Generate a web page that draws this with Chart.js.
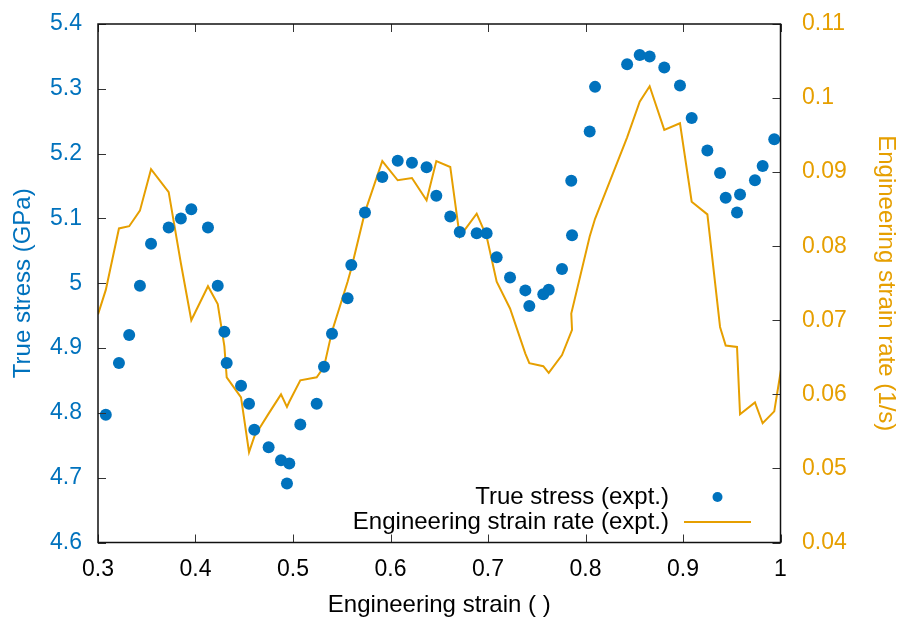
<!DOCTYPE html>
<html>
<head>
<meta charset="utf-8">
<script src="https://cdn.jsdelivr.net/npm/chart.js@4.4.1/dist/chart.umd.min.js"></script>
<style>
  html, body { margin: 0; padding: 0; background: #fff; }
  #wrap { width: 898px; height: 619px; }
</style>
</head>
<body>
<div id="wrap"><canvas id="chart" width="898" height="619"></canvas></div>
<script>
// engineering strain shared by both series (first/last only carry the rate line past the frame)
var strain = [
  0.300, 0.308, 0.3215, 0.332, 0.343, 0.3544, 0.3725, 0.385, 0.3957, 0.4128,
  0.4228, 0.4296, 0.432, 0.4467, 0.4549, 0.4603, 0.475, 0.4877, 0.4938, 0.4962,
  0.5075, 0.5243, 0.5318, 0.540, 0.556, 0.5598, 0.5738, 0.5916, 0.6074, 0.622,
  0.637, 0.647, 0.6613, 0.671, 0.6884, 0.6986, 0.7089, 0.7226, 0.7383, 0.7424,
  0.7567, 0.7623, 0.7759, 0.7862, 0.7854, 0.8043, 0.8098, 0.8427, 0.8556, 0.8658,
  0.8808, 0.8969, 0.9089, 0.925, 0.938, 0.9438, 0.9554, 0.9585, 0.9738, 0.9817,
  0.9936, 1.005
];
// true stress, GPa
var stress = [
  null, 4.797, 4.877, 4.920, 4.996, 5.061, 5.086, 5.100, 5.114, 5.086,
  4.996, 4.925, 4.877, 4.842, 4.814, 4.774, 4.747, 4.727, 4.691, 4.722,
  4.782, 4.814, 4.871, 4.922, 4.977, 5.028, 5.109, 5.164, 5.189, 5.186,
  5.179, 5.135, 5.103, 5.079, 5.077, 5.077, 5.040, 5.009, 4.989, 4.965,
  4.983, 4.990, 5.022, 5.074, 5.158, 5.234, 5.303, 5.338, 5.352, 5.350,
  5.333, 5.305, 5.255, 5.205, 5.170, 5.132, 5.109, 5.137, 5.159, 5.181,
  5.222, null
];
// engineering strain rate, 1/s
var rate = [
  0.0708, 0.0741, 0.0824, 0.0827, 0.0848, 0.0904, 0.0873, 0.0777, 0.0700, 0.0746,
  0.0722, 0.0665, 0.0623, 0.0596, 0.0522, 0.0543, 0.0574, 0.0600, 0.0583, 0.0590,
  0.0619, 0.0623, 0.0637, 0.0685, 0.0752, 0.0770, 0.0846, 0.0915, 0.0889, 0.0892,
  0.0862, 0.0915, 0.0907, 0.0813, 0.0844, 0.0813, 0.0752, 0.0716, 0.0655, 0.0642,
  0.0638, 0.0629, 0.0653, 0.0687, 0.0709, 0.0813, 0.0837, 0.0947, 0.0995, 0.1016,
  0.0957, 0.0966, 0.0860, 0.0843, 0.0691, 0.0666, 0.0664, 0.0573, 0.0589, 0.0561,
  0.0577, 0.0670
];
var legendLabels = ['True stress (expt.)', 'Engineering strain rate (expt.)'];

var BLUE = '#0072bd';
var ORANGE = '#e69f00';
var FONT = "'Liberation Sans', Arial, sans-serif";

function fmt(v) { return String(Number(v.toFixed(3))); }

var stressPts = [], ratePts = [];
for (var i = 0; i < strain.length; i++) {
  if (stress[i] != null) stressPts.push({x: strain[i], y: stress[i]});
  ratePts.push({x: strain[i], y: rate[i]});
}

// frame, inward ticks and the key, gnuplot style
var framePlugin = {
  id: 'frame',
  afterDraw: function(chart) {
    var ctx = chart.ctx, a = chart.chartArea, s = chart.scales;
    ctx.save();
    ctx.strokeStyle = '#333';
    ctx.lineWidth = 1;
    ctx.beginPath();
    s.x.ticks.forEach(function(t) {
      var px = Math.round(s.x.getPixelForValue(t.value)) + 0.5;
      ctx.moveTo(px, a.bottom); ctx.lineTo(px, a.bottom - 8);
      ctx.moveTo(px, a.top); ctx.lineTo(px, a.top + 8);
    });
    s.y.ticks.forEach(function(t) {
      var py = Math.round(s.y.getPixelForValue(t.value)) + 0.5;
      ctx.moveTo(a.left, py); ctx.lineTo(a.left + 8, py);
    });
    s.y2.ticks.forEach(function(t) {
      var py = Math.round(s.y2.getPixelForValue(t.value)) + 0.5;
      ctx.moveTo(a.right, py); ctx.lineTo(a.right - 8, py);
    });
    ctx.stroke();
    ctx.strokeStyle = '#111';
    ctx.lineWidth = 1.5;
    ctx.strokeRect(a.left, a.top, a.right - a.left, a.bottom - a.top);

    // key
    ctx.font = '24px ' + FONT;
    ctx.fillStyle = '#000';
    ctx.textAlign = 'right';
    ctx.textBaseline = 'middle';
    ctx.fillText(legendLabels[0], 669, 497);
    ctx.fillText(legendLabels[1], 669, 522);
    ctx.fillStyle = BLUE;
    ctx.beginPath();
    ctx.arc(717.5, 497, 5, 0, Math.PI * 2);
    ctx.fill();
    ctx.strokeStyle = ORANGE;
    ctx.lineWidth = 2;
    ctx.beginPath();
    ctx.moveTo(684, 522); ctx.lineTo(751, 522);
    ctx.stroke();
    ctx.restore();
  }
};

// fixed axis boxes; drop the label overhang so the frame sits where it should
function fixVertical(w) {
  return function(sc) {
    sc.width = w;
    sc.paddingTop = 0;
    sc.paddingBottom = 0;
  };
}

new Chart(document.getElementById('chart'), {
  type: 'scatter',
  data: {
    datasets: [{
      label: legendLabels[0],
      data: stressPts,
      yAxisID: 'y',
      backgroundColor: BLUE,
      borderColor: BLUE,
      pointRadius: 6,
      pointBorderWidth: 0,
      showLine: false
    }, {
      label: legendLabels[1],
      type: 'line',
      data: ratePts,
      yAxisID: 'y2',
      borderColor: ORANGE,
      backgroundColor: ORANGE,
      borderWidth: 2,
      pointRadius: 0,
      tension: 0,
      fill: false
    }]
  },
  options: {
    responsive: false,
    animation: false,
    events: [],
    layout: { padding: { top: 24, left: 0, right: 0, bottom: 0 } },
    plugins: {
      legend: { display: false },
      tooltip: { enabled: false }
    },
    scales: {
      x: {
        type: 'linear',
        min: 0.3, max: 1,
        grid: { display: false, drawTicks: false },
        border: { display: false },
        ticks: {
          stepSize: 0.1, autoSkip: false, maxRotation: 0, padding: 13,
          color: '#000', font: { family: FONT, size: 23 },
          callback: function(v) { return fmt(v); }
        },
        title: {
          display: true, text: 'Engineering strain ( )', color: '#000',
          font: { family: FONT, size: 24, lineHeight: 1 },
          padding: { top: 0, bottom: 2 }
        },
        afterFit: function(sc) { sc.height = 76.5; }
      },
      y: {
        position: 'left',
        min: 4.6, max: 5.4,
        grid: { display: false, drawTicks: false },
        border: { display: false },
        ticks: {
          stepSize: 0.1, autoSkip: false, padding: 16,
          color: BLUE, font: { family: FONT, size: 23 },
          callback: function(v) { return fmt(v); }
        },
        title: {
          display: true, text: 'True stress (GPa)', color: BLUE,
          font: { family: FONT, size: 24, lineHeight: 1 },
          padding: { top: 11, bottom: 0 }
        },
        afterFit: fixVertical(98)
      },
      y2: {
        position: 'right',
        min: 0.04, max: 0.11,
        grid: { display: false, drawTicks: false },
        border: { display: false },
        ticks: {
          stepSize: 0.01, autoSkip: false, padding: 21.5,
          color: ORANGE, font: { family: FONT, size: 23 },
          callback: function(v) { return fmt(v); }
        },
        title: {
          display: true, text: 'Engineering strain rate (1/s)', color: ORANGE,
          font: { family: FONT, size: 24, lineHeight: 1 },
          padding: { top: 0, bottom: 0 }
        },
        afterFit: fixVertical(117.5)
      }
    }
  },
  plugins: [framePlugin]
});
</script>
</body>
</html>
